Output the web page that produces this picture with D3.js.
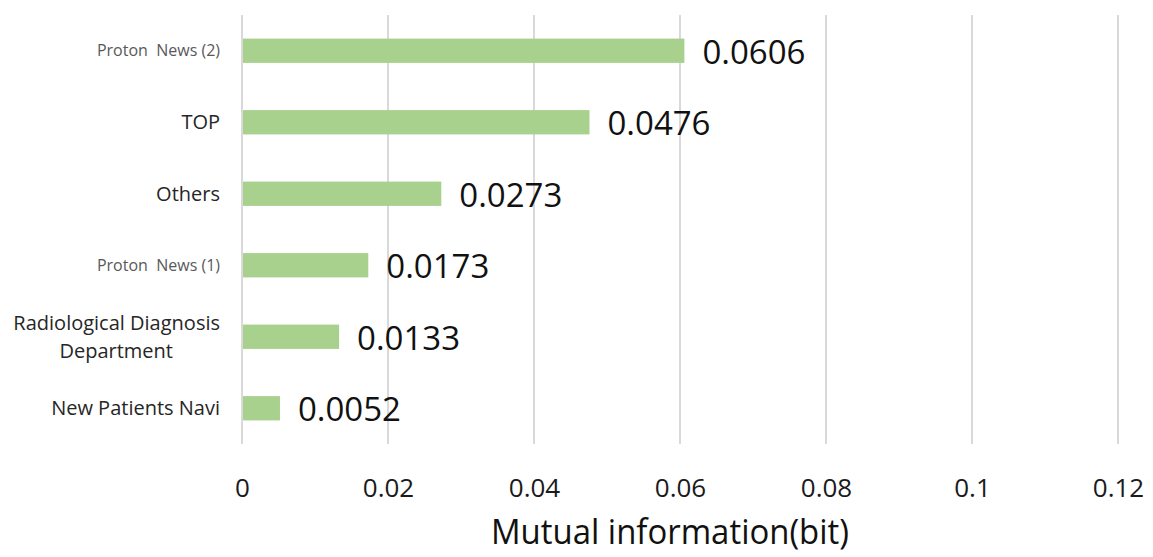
<!DOCTYPE html>
<html>
<head>
<meta charset="utf-8">
<script src="https://cdn.jsdelivr.net/npm/d3@7"></script>
<style>
  html, body { margin: 0; padding: 0; background: #ffffff; }
  svg { display: block; }
</style>
</head>
<body>
<svg id="chart" width="1153" height="557"></svg>
<script>
// Data
const categories = ["Proton  News (2)", "TOP", "Others", "Proton  News (1)", "Radiological Diagnosis\nDepartment", "New Patients Navi"];
const values = [0.0606, 0.0476, 0.0273, 0.0173, 0.0133, 0.0052];
const valueLabels = ["0.0606", "0.0476", "0.0273", "0.0173", "0.0133", "0.0052"];
const xTicks = [0, 0.02, 0.04, 0.06, 0.08, 0.1, 0.12];
const xTickLabels = ["0", "0.02", "0.04", "0.06", "0.08", "0.1", "0.12"];
const smallLabel = [true, false, false, true, false, false];
const axisTitle = "Mutual information(bit)";

(function () {
const svg = d3.select("#chart");
const mLeft = 242, mRight = 1118, mTop = 15, mBottom = 444;

const x = d3.scaleLinear().domain([0, 0.12]).range([mLeft, mRight]);
const y = d3.scaleBand().domain(d3.range(categories.length)).range([mTop, mBottom]).paddingInner(0.66).paddingOuter(0.33);

// gridlines
svg.append("g").selectAll("line").data(xTicks).join("line")
  .attr("x1", d => x(d)).attr("x2", d => x(d))
  .attr("y1", mTop).attr("y2", mBottom)
  .attr("stroke", "#d9d9d9").attr("stroke-width", 2);

// bars
svg.append("g").selectAll("rect").data(values).join("rect")
  .attr("x", x(0) + 1)
  .attr("y", (d, i) => y(i))
  .attr("width", d => x(d) - x(0) - 1)
  .attr("height", y.bandwidth())
  .attr("fill", "#a9d18e");

// value labels
svg.append("g").selectAll("text").data(values).join("text")
  .attr("x", d => x(d) + 18)
  .attr("y", (d, i) => y(i) + y.bandwidth() / 2 + 13)
  .attr("font-family", "'Open Sans', sans-serif")
  .attr("font-size", 33)
  .attr("fill", "#111111")
  .text((d, i) => valueLabels[i]);

// category labels
const catG = svg.append("g");
categories.forEach((c, i) => {
  const lines = c.split("\n");
  const cy = y(i) + y.bandwidth() / 2;
  const lh = 28;
  const t = catG.append("text")
    .attr("text-anchor", "end")
    .attr("font-family", "'Open Sans', sans-serif")
    .attr("font-size", smallLabel[i] ? 16 : 20)
    .attr("fill", smallLabel[i] ? "#595959" : "#262626")
    .style("white-space", "pre");
  lines.forEach((ln, j) => {
    const ly = cy + (j - (lines.length - 1) / 2) * lh;
    t.append("tspan")
      .attr("x", lines.length > 1 && j === 1 ? 173 : 220)
      .attr("y", ly)
      .attr("dy", "0.35em")
      .text(ln);
  });
});

// x axis tick labels
const xAxis = d3.axisBottom(x).tickValues(xTicks).tickFormat((d, i) => xTickLabels[i]).tickSize(0).tickPadding(0);
const ax = svg.append("g").attr("transform", "translate(0, 470)").call(xAxis);
ax.select(".domain").remove();
ax.selectAll("text")
  .attr("font-family", "'Open Sans', sans-serif")
  .attr("font-size", 26)
  .attr("fill", "#1a1a1a")
  .attr("dy", null)
  .attr("y", 27);

// axis title
svg.append("text")
  .attr("x", 670).attr("y", 544)
  .attr("text-anchor", "middle")
  .attr("font-family", "'Open Sans', sans-serif")
  .attr("font-size", 35)
  .attr("textLength", 358)
  .attr("lengthAdjust", "spacingAndGlyphs")
  .attr("fill", "#111111")
  .text(axisTitle);
})();
</script>
</body>
</html>
